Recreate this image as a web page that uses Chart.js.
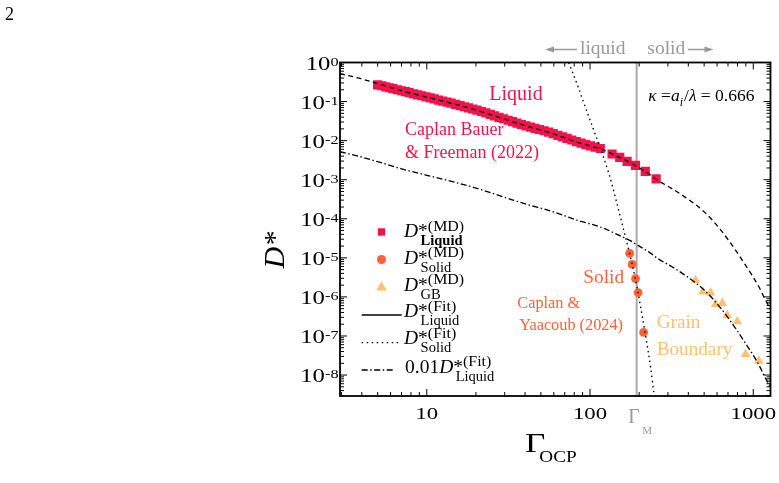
<!DOCTYPE html>
<html>
<head>
<meta charset="utf-8">
<script src="https://cdn.jsdelivr.net/npm/chart.js@4.4.1/dist/chart.umd.min.js"></script>
<style>
  html, body { margin: 0; padding: 0; background: #fff; }
  canvas { display: block; }
</style>
</head>
<body>
<canvas id="myChart" width="779" height="483"></canvas>
<script>
// MD data, Caplan Bauer & Freeman (2022) - liquid
const liquidGamma = [5.0, 5.3, 5.6, 5.9, 6.2, 6.6, 7.0, 7.4, 7.8, 8.3, 8.8, 9.3, 9.9, 10.5, 11.1, 11.8, 12.5, 13.3, 14.1, 15.0,
  16.0, 17.0, 18.0, 19.1, 20.3, 21.6, 23.0, 24.5, 26.0, 27.7, 29.5, 31.5, 33.5, 35.7, 38.0, 40.5, 43.2, 46.0, 49.0, 52.3,
  55.8, 59.5, 63.5, 67.8, 72.4, 77.3, 82.6, 88.2, 94.2, 100.6, 107.5, 115.6, 136.5, 152, 168.7, 189.7, 218, 254];
const liquidD = [0.269, 0.254, 0.239, 0.226, 0.215, 0.201, 0.189, 0.179, 0.169, 0.158, 0.149, 0.141, 0.132, 0.124, 0.117, 0.109, 0.103, 0.0966, 0.0908, 0.0851,
  0.0791, 0.0738, 0.0692, 0.0646, 0.0603, 0.0557, 0.0511, 0.0469, 0.0432, 0.0396, 0.0363, 0.0333, 0.0307, 0.0281, 0.0259, 0.0239, 0.0222, 0.0207, 0.0193, 0.0179,
  0.0166, 0.0151, 0.0137, 0.0125, 0.0114, 0.0104, 0.0094, 0.0086, 0.0079, 0.00736, 0.00684, 0.0063, 0.00455, 0.00373, 0.00294, 0.00233, 0.00164, 0.00105];

// Caplan & Yaacoub (2024) - solid
const solidGamma = [175, 181, 190, 197, 213];
const solidD = [1.3e-5, 6.8e-6, 2.95e-6, 1.29e-6, 1.23e-7];

// grain boundary
const gbGamma = [443, 491, 547, 587, 646, 693, 798, 897, 1081];
const gbD = [2.67e-6, 1.35e-6, 1.29e-6, 6.5e-7, 6.9e-7, 3.4e-7, 2.35e-7, 3.4e-8, 2.3e-8];

// fits
const liquidFitGamma = [2.94, 3.9, 5, 7, 10, 15, 20, 30, 40, 55, 70, 85, 100, 120, 150, 175, 200, 230, 260, 316,
  398, 501, 631, 794, 900, 1000, 1100, 1161, 1220, 1280];
const liquidFitD = [0.52, 0.39, 0.29, 0.19, 0.13, 0.085, 0.061, 0.0355, 0.024, 0.0166, 0.0119, 0.0089, 0.0074, 0.0058, 0.0038, 0.0028, 0.0020, 0.0014, 9.6e-4, 6.0e-4,
  3.2e-4, 1.5e-4, 5.2e-5, 1.4e-5, 6.3e-6, 3.2e-6, 1.6e-6, 1.0e-6, 6.8e-7, 4.7e-7];
const solidFitGamma = [74, 85, 91, 101, 115, 130, 145, 161, 175, 190, 205, 220, 235, 246, 252];
const solidFitD = [1.0, 0.224, 0.1, 0.030, 6.8e-3, 1.5e-3, 2.8e-4, 5.0e-5, 1.26e-5, 2.8e-6, 5.0e-7, 8.9e-8, 1.6e-8, 3.5e-9, 1.8e-9];

const GAMMA_M = 193;
const xTickLabels = [10, 100, 1000];
const yTickExps = [0, -1, -2, -3, -4, -5, -6, -7, -8];

const RED = '#f2134c';
const ORANGE = '#fd6236';
const PALE = '#ffc070';
const GREY = '#999999';
const FONT = '"Liberation Serif", "Times New Roman", serif';

const pts = (xs, ys, k = 1) => xs.map((x, i) => ({ x, y: ys[i] * k }));

function put(ctx, str, x, y, size, o = {}) {
  ctx.save();
  ctx.font = `${o.style || ''} ${o.weight || ''} ${size}px ${FONT}`;
  ctx.fillStyle = o.color || '#000';
  const sx = o.sx || 1;
  const w = ctx.measureText(str).width * sx;
  const x0 = o.align === 'center' ? x - w / 2 : o.align === 'right' ? x - w : x;
  ctx.translate(x0, y);
  ctx.scale(sx, 1);
  ctx.textAlign = 'left';
  ctx.textBaseline = 'alphabetic';
  ctx.fillText(str, 0, 0);
  ctx.restore();
  return x0 + w;
}
function textW(ctx, str, size, o = {}) {
  ctx.save();
  ctx.font = `${o.style || ''} ${o.weight || ''} ${size}px ${FONT}`;
  const w = ctx.measureText(str).width * (o.sx || 1);
  ctx.restore();
  return w;
}

// D*^(sup)_(sub) for the legend
function dstar(ctx, x, b, sup, sub, subBold) {
  const xe = put(ctx, 'D', x, b, 19.5, { style: 'italic' });
  const xs = put(ctx, '*', xe, b, 19.5);
  put(ctx, sup, xs, b - 6.5, 14.5, { sx: 1.1 });
  put(ctx, sub, xe + 2.5, b + 8, 14.5, { weight: subBold ? 'bold' : '' });
}

const decor = {
  id: 'decor',
  beforeDatasetsDraw(chart) {
    const { ctx, chartArea: a, scales: { x } } = chart;
    const gx = x.getPixelForValue(GAMMA_M);
    ctx.save();
    ctx.strokeStyle = '#a8a8a8';
    ctx.lineWidth = 2;
    ctx.beginPath();
    ctx.moveTo(gx, a.top);
    ctx.lineTo(gx, a.bottom);
    ctx.stroke();
    ctx.restore();
  },
  afterDraw(chart) {
    const { ctx, chartArea: a, scales: { x, y } } = chart;
    ctx.save();
    // frame
    ctx.strokeStyle = '#000';
    ctx.lineWidth = 1.8;
    ctx.strokeRect(a.left, a.top, a.right - a.left, a.bottom - a.top);

    // inward ticks on all sides
    ctx.lineWidth = 1;
    ctx.beginPath();
    for (let e = 0; e <= 4; e++) {
      for (let m = 1; m <= 9; m++) {
        const v = m * Math.pow(10, e);
        if (v < x.min || v > x.max) continue;
        const px = x.getPixelForValue(v), len = m === 1 ? 7 : 4;
        ctx.moveTo(px, a.bottom); ctx.lineTo(px, a.bottom - len);
        ctx.moveTo(px, a.top); ctx.lineTo(px, a.top + len);
      }
    }
    for (let e = -9; e <= 0; e++) {
      for (let m = 1; m <= 9; m++) {
        const v = m * Math.pow(10, e);
        if (v < y.min || v > y.max * 1.0001) continue;
        const py = y.getPixelForValue(v), len = m === 1 ? 7 : 4;
        ctx.moveTo(a.left, py); ctx.lineTo(a.left + len, py);
        ctx.moveTo(a.right, py); ctx.lineTo(a.right - len, py);
      }
    }
    ctx.stroke();
    ctx.restore();

    // tick labels
    xTickLabels.forEach(v => {
      put(ctx, String(v), x.getPixelForValue(v), a.bottom + 22.5, 16, { align: 'center', sx: 1.42 });
    });
    yTickExps.forEach(e => {
      const py = y.getPixelForValue(Math.pow(10, e));
      const ex = String(e);
      const w = textW(ctx, '10', 19, { sx: 1.3 }) + textW(ctx, ex, 12.5, { sx: 1.3 });
      const xe = put(ctx, '10', 338.5 - w, py + 7.3, 19, { sx: 1.3 });
      put(ctx, ex, xe, py + 3.2, 12.5, { sx: 1.3 });
    });

    // axis titles
    const gxe = put(ctx, 'Γ', 525, 451.7, 27, { sx: 1.3 });
    put(ctx, 'OCP', gxe - 6, 461.7, 16, { sx: 1.2 });
    ctx.save();
    ctx.translate(283.5, 268.5);
    ctx.rotate(-Math.PI / 2);
    put(ctx, 'D*', 0, 0, 30, { style: 'italic' });
    ctx.restore();

    // melting point
    const gx = x.getPixelForValue(GAMMA_M);
    put(ctx, 'Γ', gx - 8.5, 423.3, 20, { color: GREY });
    put(ctx, 'M', gx + 5.5, 434.3, 11, { color: GREY });

    // liquid / solid arrows
    put(ctx, 'liquid', 580, 53.5, 19.5, { color: GREY });
    put(ctx, 'solid', 647.3, 53.5, 19.5, { color: GREY });
    ctx.save();
    ctx.strokeStyle = GREY; ctx.fillStyle = GREY; ctx.lineWidth = 1.3;
    ctx.beginPath();
    ctx.moveTo(548, 49.5); ctx.lineTo(577, 49.5);
    ctx.moveTo(688, 49.5); ctx.lineTo(710, 49.5);
    ctx.stroke();
    ctx.beginPath();
    ctx.moveTo(545, 49.5); ctx.lineTo(554, 46.5); ctx.lineTo(554, 52.5); ctx.closePath();
    ctx.moveTo(713.5, 49.5); ctx.lineTo(704.5, 46.5); ctx.lineTo(704.5, 52.5); ctx.closePath();
    ctx.fill();
    ctx.restore();

    // annotations
    put(ctx, 'Liquid', 489.3, 100, 20, { color: RED });
    put(ctx, 'Caplan Bauer', 405, 135, 18, { color: RED });
    put(ctx, '& Freeman (2022)', 405, 158, 18, { color: RED });
    put(ctx, 'Solid', 583.3, 283.3, 19.3, { color: ORANGE });
    put(ctx, 'Caplan &', 517.3, 308.3, 16.3, { color: ORANGE });
    put(ctx, 'Yaacoub (2024)', 519.3, 330, 16.3, { color: ORANGE });
    put(ctx, 'Grain', 656.7, 328.3, 19.2, { color: PALE });
    put(ctx, 'Boundary', 656.7, 355, 19.2, { color: PALE });

    let kx = put(ctx, 'κ', 648.3, 101, 17.5, { style: 'italic' });
    kx = put(ctx, ' =', kx, 101, 17.5);
    kx = put(ctx, 'a', kx, 101, 17.5, { style: 'italic' });
    kx = put(ctx, 'i', kx, 105.5, 12, { style: 'italic' });
    kx = put(ctx, '/', kx + 1, 101, 17.5);
    kx = put(ctx, 'λ', kx, 101, 17.5, { style: 'italic' });
    put(ctx, ' = 0.666', kx, 101, 17.5);

    // legend
    const mx = 381.5;
    ctx.save();
    ctx.fillStyle = RED;
    ctx.fillRect(mx - 3.7, 232 - 3.7, 7.4, 7.4);
    ctx.fillStyle = ORANGE;
    ctx.beginPath(); ctx.arc(mx, 259.5, 4.5, 0, Math.PI * 2); ctx.fill();
    ctx.fillStyle = PALE;
    ctx.beginPath(); ctx.moveTo(mx, 281.5); ctx.lineTo(mx + 5.3, 290.5); ctx.lineTo(mx - 5.3, 290.5); ctx.closePath(); ctx.fill();
    ctx.strokeStyle = '#000'; ctx.lineWidth = 1.3;
    ctx.beginPath(); ctx.moveTo(361.7, 315); ctx.lineTo(401.7, 315); ctx.stroke();
    ctx.setLineDash([1.5, 3.5]);
    ctx.beginPath(); ctx.moveTo(361.7, 342.7); ctx.lineTo(400, 342.7); ctx.stroke();
    ctx.setLineDash([6, 2.5, 1.5, 2.5]);
    ctx.beginPath(); ctx.moveTo(361.7, 370); ctx.lineTo(394, 370); ctx.stroke();
    ctx.restore();

    dstar(ctx, 404, 237.3, '(MD)', 'Liquid', true);
    dstar(ctx, 404, 263.8, '(MD)', 'Solid');
    dstar(ctx, 404, 290.7, '(MD)', 'GB');
    dstar(ctx, 404, 317, '(Fit)', 'Liquid');
    dstar(ctx, 404, 344, '(Fit)', 'Solid');
    const x01 = put(ctx, '0.01', 405, 372.7, 19.5);
    dstar(ctx, x01, 372.7, '(Fit)', 'Liquid');

    // page number
    put(ctx, '2', 5, 20, 18);
  }
};

const ctx = document.getElementById('myChart').getContext('2d');
new Chart(ctx, {
  type: 'scatter',
  data: {
    datasets: [
      { label: 'liquid fit', data: pts(liquidFitGamma, liquidFitD), showLine: true, pointRadius: 0,
        borderColor: '#000', borderWidth: 1.3, borderDash: [5, 3.5], cubicInterpolationMode: 'monotone', order: 0 },
      { label: 'solid fit', data: pts(solidFitGamma, solidFitD), showLine: true, pointRadius: 0,
        borderColor: '#000', borderWidth: 1.4, borderDash: [1.5, 3.5], cubicInterpolationMode: 'monotone', order: 0 },
      { label: '0.01 liquid fit', data: pts(liquidFitGamma, liquidFitD, 0.01), showLine: true, pointRadius: 0,
        borderColor: '#000', borderWidth: 1.3, borderDash: [6, 2.5, 1.5, 2.5], cubicInterpolationMode: 'monotone', order: 0 },
      { label: 'liquid MD', data: pts(liquidGamma, liquidD), pointStyle: 'rect', pointRadius: 6.5,
        backgroundColor: RED, borderWidth: 0, order: 2 },
      { label: 'solid MD', data: pts(solidGamma, solidD), pointStyle: 'circle', pointRadius: 4.4,
        backgroundColor: ORANGE, borderWidth: 0, order: 2 },
      { label: 'GB MD', data: pts(gbGamma, gbD), pointStyle: 'triangle', pointRadius: 5.6,
        backgroundColor: PALE, borderWidth: 0, order: 2 }
    ]
  },
  options: {
    responsive: false,
    animation: false,
    devicePixelRatio: 1,
    layout: { padding: { left: 340, top: 62.5, right: 8.5, bottom: 87 } },
    plugins: { legend: { display: false }, tooltip: { enabled: false } },
    scales: {
      x: { type: 'logarithmic', min: 2.94, max: 1275, display: false },
      y: { type: 'logarithmic', min: 2.91e-9, max: 1, display: false }
    }
  },
  plugins: [decor]
});
</script>
</body>
</html>
